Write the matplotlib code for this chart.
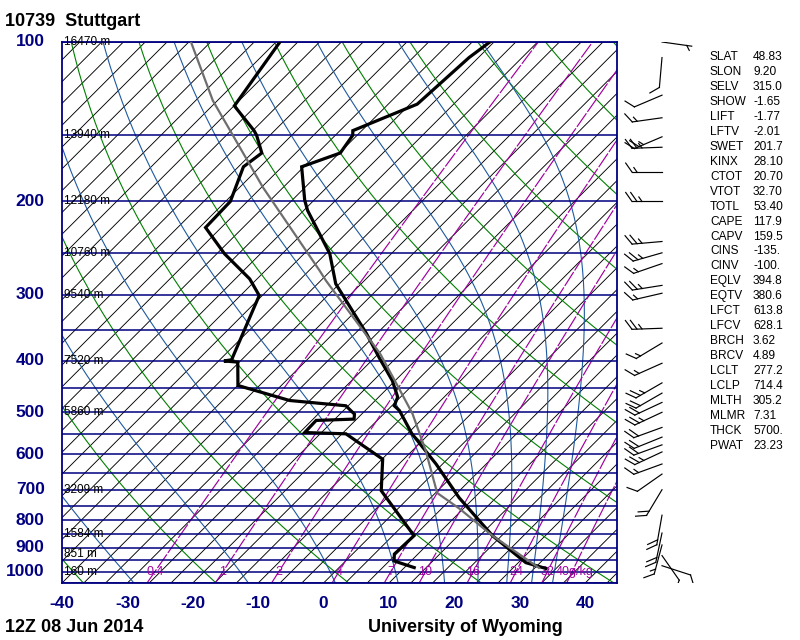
import numpy as np
import matplotlib
matplotlib.use('Agg')
import matplotlib.pyplot as plt
from matplotlib.lines import Line2D
from matplotlib.transforms import IdentityTransform

# ---------------- data ----------------
station_title = "10739  Stuttgart"
date_text = "12Z 08 Jun 2014"
credit_text = "University of Wyoming"

pres_T = [986, 961, 855, 725, 626, 549, 496, 486, 468, 436, 394, 355, 286, 251,
          208, 199, 172, 162, 150, 147, 131, 107, 100]
temp = [31.8, 27.8, 18.6, 7.7, -1.0, -9.3, -14.8, -16.3, -17.1, -20.4, -26.0, -31.6,
        -43.9, -49.4, -59.4, -61.4, -67.0, -63.2, -64.0, -64.7, -58.9, -58.1, -57.3]

pres_Td = [982, 954, 926, 855, 703, 613, 549, 546, 518, 515, 504, 486, 475, 445,
           402, 400, 398, 301, 280, 251, 224, 200, 172, 162, 150, 147, 132, 100]
dwpt = [11.5, 7.4, 6.4, 6.6, -5.3, -9.9, -19.4, -25.9, -26.0, -20.4, -21.1, -23.7,
        -33.1, -43.3, -46.9, -49.2, -48.2, -53.8, -57.8, -65.5, -72.4, -72.6, -75.9,
        -75.2, -78.7, -79.8, -86.6, -89.4]

pres_parcel = [983, 855, 760, 710, 591, 503, 441, 387, 282, 270, 188, 129, 100]
temp_parcel = [30.6, 18.6, 9.4, 3.6, -4.6, -12.3, -19.4, -26.5, -45.9, -48.4, -69.8,
               -90.7, -103.0]

isobars = list(range(100, 1051, 50))
pres_labels = [100, 200, 300, 400, 500, 600, 700, 800, 900, 1000]
xtick_vals = [-40, -30, -20, -10, 0, 10, 20, 30, 40]

height_p = [100, 150, 200, 250, 300, 400, 500, 700, 850, 925, 1000]
height_lbl = ['16470 m', '13940 m', '12180 m', '10760 m', '9540 m', '7520 m',
              '5860 m', '3209 m', '1584 m', '851 m', '160 m']

isotherm_T = list(np.arange(-170, 50, 10 / 3.0))
dry_theta = list(range(-40, 221, 20))
moist_start_T = [-29.0, -11.5, 1.8, 11.4, 18.5, 23.6, 28.0, 31.8, 35.0]
mix_ratio = [0.4, 1, 2, 4, 7, 10, 16, 24, 32, 40]
mix_lbl = ['0.4', '1', '2', '4', '7', '10', '16', '24', '32', '40g/kg']

wind_p = [100, 107, 126, 139, 151, 158, 176, 200, 238, 250, 262, 288, 298, 347,
          370, 404, 440, 460, 479, 500, 534, 557, 576, 594, 626, 654, 700, 782,
          845, 890, 932, 974]
wind_dir = [98, 185, 247, 262, 247, 268, 270, 270, 265, 254, 251, 261, 257, 268,
            239, 246, 240, 240, 245, 245, 250, 248, 250, 245, 250, 235, 211, 190,
            192, 195, 145, 108]
wind_spd = [5, 10, 10, 15, 25, 25, 15, 25, 25, 25, 15, 25, 15, 25, 15, 15, 25, 20,
            20, 25, 20, 20, 20, 25, 15, 10, 20, 20, 20, 15, 10, 10]

stat_names = ['SLAT', 'SLON', 'SELV', 'SHOW', 'LIFT', 'LFTV', 'SWET', 'KINX', 'CTOT',
              'VTOT', 'TOTL', 'CAPE', 'CAPV', 'CINS', 'CINV', 'EQLV', 'EQTV', 'LFCT',
              'LFCV', 'BRCH', 'BRCV', 'LCLT', 'LCLP', 'MLTH', 'MLMR', 'THCK', 'PWAT']
stat_vals = ['48.83', '9.20', '315.0', '-1.65', '-1.77', '-2.01', '201.7', '28.10',
             '20.70', '32.70', '53.40', '117.9', '159.5', '-135.', '-100.', '394.8',
             '380.6', '613.8', '628.1', '3.62', '4.89', '277.2', '714.4', '305.2',
             '7.31', '5700.', '23.23']

# ---------------- geometry ----------------
W, H = 800, 640
P_BOT, P_TOP = 1050.0, 100.0
ax_l, ax_r, ax_t, ax_b = 62, 617, 42, 583
px_per_deg = 6.54
x_min = -40.0
x_max = x_min + (ax_r - ax_l) / px_per_deg
K = (ax_b - ax_t) / np.log(P_BOT / P_TOP) / px_per_deg   # 45 degree skew

def skew(T, p):
    return np.asarray(T, float) + K * np.log(P_BOT / np.asarray(p, float))

NAVY = '#000080'
GREEN = '#008000'
MOIST = '#1e5aa0'
PURPLE = '#a000a0'

fig = plt.figure(figsize=(W / 100, H / 100), dpi=100)
rect = [ax_l / W, 1 - ax_b / H, (ax_r - ax_l) / W, (ax_b - ax_t) / H]
ax = fig.add_axes(rect)
ax.set_yscale('log')
ax.set_ylim(P_BOT, P_TOP)
ax.set_xlim(x_min, x_max)
ax.set_xticks([])
ax.set_yticks([])
ax.minorticks_off()
for s in ax.spines.values():
    s.set_color(NAVY)
    s.set_linewidth(1.3)

pp = np.exp(np.linspace(np.log(P_BOT), np.log(P_TOP), 300))

# isobars
for p in isobars:
    ax.axhline(p, color=NAVY, lw=1.1, zorder=2)

# isotherms
for T in isotherm_T:
    ax.plot(skew(np.full_like(pp, T), pp), pp, color='black', lw=0.65, zorder=1)

# dry adiabats
for th in dry_theta:
    T = (th + 273.15) * (pp / 1000.0) ** 0.2857 - 273.15
    ax.plot(skew(T, pp), pp, color=GREEN, lw=0.8, zorder=1.5)

# moist adiabats
def es(Tk):
    return 6.112 * np.exp(17.67 * (Tk - 273.15) / (Tk - 29.65))

def dTdlnp(Tk, p):
    Rd, cp, Lv, eps = 287.04, 1005.7, 2.501e6, 0.622
    e = es(Tk)
    rs = eps * e / (p - e)
    return (Rd * Tk + Lv * rs) / (cp + Lv * Lv * rs * eps / (Rd * Tk * Tk))

lnp = np.log(pp)
for T0 in moist_start_T:
    Tk = T0 + 273.15
    out = [Tk]
    for i in range(1, len(pp)):
        h = lnp[i] - lnp[i - 1]
        k1 = dTdlnp(Tk, pp[i - 1])
        k2 = dTdlnp(Tk + h * k1, pp[i])
        Tk = Tk + h * 0.5 * (k1 + k2)
        out.append(Tk)
    ax.plot(skew(np.array(out) - 273.15, pp), pp, color=MOIST, lw=0.8, zorder=1.5)

# mixing ratio lines
def td_from_w(w, p):
    e = w * p / (622.0 + w)
    l = np.log(e / 6.112)
    return 243.5 * l / (17.67 - l)

for w, lab in zip(mix_ratio, mix_lbl):
    ax.plot(skew(td_from_w(w, pp), pp), pp, color=PURPLE, lw=0.85,
            dashes=(14, 1.5), zorder=1.6)
    xl = skew(td_from_w(w, 1000.0), 1000.0)
    if lab.endswith('g/kg'):
        ax.annotate(lab, (xl, 1000.0), xytext=(-12, 0), textcoords='offset points',
                    ha='left', va='center', color=PURPLE, fontsize=9,
                    family='Liberation Sans', zorder=5)
    else:
        ax.text(xl, 1000.0, lab, ha='center', va='center', color=PURPLE,
                fontsize=9, family='Liberation Sans', zorder=5)

# height labels
for p, lab in zip(height_p, height_lbl):
    ax.annotate(lab, (0, p), xycoords=('axes fraction', 'data'), xytext=(1.5, 0),
                textcoords='offset points', ha='left', va='center', fontsize=8.5,
                family='Liberation Sans', color='black', zorder=6)

# profiles
ax.plot(skew(temp, pres_T), pres_T, color='black', lw=2.3, zorder=8,
        solid_joinstyle='miter')
ax.plot(skew(dwpt, pres_Td), pres_Td, color='black', lw=2.3, zorder=8,
        solid_joinstyle='miter')
ax.plot(skew(temp_parcel, pres_parcel), pres_parcel, color='#6e6e6e', lw=1.6,
        zorder=9)

# axis labels
for p in pres_labels:
    ax.annotate(str(p), (0, p), xycoords=('axes fraction', 'data'), xytext=(-12.5, 0),
                textcoords='offset points', ha='right', va='center', fontsize=12.5,
                fontweight='bold', color=NAVY, family='Liberation Sans')
for t in xtick_vals:
    ax.annotate(str(t), (t, 0), xycoords=('data', 'axes fraction'), xytext=(0, -15),
                textcoords='offset points', ha='center', va='center', fontsize=12.5,
                fontweight='bold', color=NAVY, family='Liberation Sans')

fig.text(5 / W, 1 - 22 / H, station_title, fontsize=13, fontweight='bold',
         family='Liberation Sans', va='center', ha='left')
fig.text(5 / W, 1 - 627 / H, date_text, fontsize=13, fontweight='bold',
         family='Liberation Sans', va='center', ha='left')
fig.text(368 / W, 1 - 627 / H, credit_text, fontsize=13, fontweight='bold',
         family='Liberation Sans', va='center', ha='left')

# stats
for i, (n, v) in enumerate(zip(stat_names, stat_vals)):
    y = 1 - (57 + i * 14.96) / H
    fig.text(710 / W, y, n, fontsize=8.6, family='Liberation Sans', va='center')
    fig.text(753 / W, y, v, fontsize=8.6, family='Liberation Sans', va='center')

# wind barbs
axw = fig.add_axes([ax_r / W, 1 - ax_b / H, 100 / W, (ax_b - ax_t) / H])
axw.set_yscale('log')
axw.set_ylim(P_BOT, P_TOP)
axw.set_xlim(ax_r, ax_r + 100)
axw.axis('off')
fig.canvas.draw()
BX = 662
staff_len, full_len, spacing = 30, 11, 5.0
ang = np.deg2rad(55)
c, sn = np.cos(ang), np.sin(ang)
for p, d, s in zip(wind_p, wind_dir, wind_spd):
    ox, oy = axw.transData.transform((BX, p))
    a = np.deg2rad(d)
    ux, uy = np.sin(a), np.cos(a)
    ex, ey = ox + ux * staff_len, oy + uy * staff_len
    axw.add_line(Line2D([ox, ex], [oy, ey], transform=IdentityTransform(),
                        color='black', lw=0.85))
    tx, ty = ux * c + uy * sn, -ux * sn + uy * c
    n_full, half = int(s // 10), (s % 10) >= 5
    pos = 0.0
    for k in range(n_full):
        bx, by = ex - ux * pos, ey - uy * pos
        axw.add_line(Line2D([bx, bx + tx * full_len], [by, by + ty * full_len],
                            transform=IdentityTransform(), color='black', lw=0.85))
        pos += spacing
    if half:
        if n_full == 0:
            pos += spacing
        bx, by = ex - ux * pos, ey - uy * pos
        axw.add_line(Line2D([bx, bx + tx * full_len / 2], [by, by + ty * full_len / 2],
                            transform=IdentityTransform(), color='black', lw=0.85))

fig.savefig('out.png', dpi=100)
